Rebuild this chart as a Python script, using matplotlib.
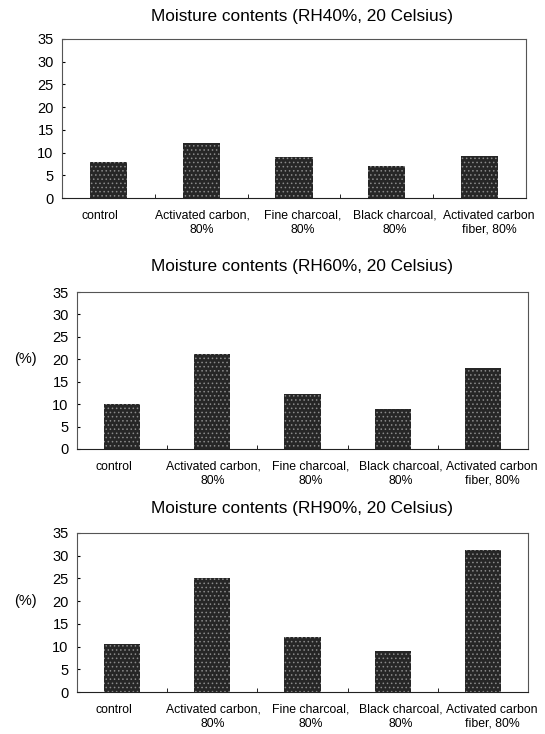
import numpy as np
import matplotlib.pyplot as plt

plt.rcParams.update({
    'font.family': ['Liberation Sans', 'DejaVu Sans'],
    'hatch.linewidth': 0.6,
    'axes.linewidth': 0.8,
})

# Data
categories = ['control', 'Activated carbon,\n80%', 'Fine charcoal,\n80%',
              'Black charcoal,\n80%', 'Activated carbon\nfiber, 80%']
titles = ['Moisture contents (RH40%, 20 Celsius)',
          'Moisture contents (RH60%, 20 Celsius)',
          'Moisture contents (RH90%, 20 Celsius)']
rh40 = [7.9, 12.1, 9.0, 7.0, 9.2]
rh60 = [10.0, 21.1, 12.2, 8.9, 18.0]
rh90 = [10.5, 25.1, 12.0, 9.0, 31.2]
yticks = [0, 5, 10, 15, 20, 25, 30, 35]

series = [rh40, rh60, rh90]
show_unit = [False, True, True]

W, H = 545, 734
fig = plt.figure(figsize=(W / 100, H / 100), dpi=100)

# axes boxes in pixels: left, right, top, bottom
boxes = [(62, 526, 39, 198), (77, 528, 292, 449), (77, 528, 533, 692)]
title_y = [17, 266, 509]
label_shift = [-0.09, 0.01, 0.09, 0.09, 0.1]

x = np.arange(len(categories))
for vals, box, title, ty, unit in zip(series, boxes, titles, title_y, show_unit):
    l, r, t, b = box
    ax = fig.add_axes([l / W, 1 - b / H, (r - l) / W, (b - t) / H])
    ax.bar(x, vals, width=0.4, color='#262626', edgecolor='#8a8a8a',
           hatch='....', linewidth=0, zorder=2)
    ax.set_xlim(-0.5, len(categories) - 0.5)
    ax.set_ylim(0, 35)
    ax.set_yticks(yticks)
    ax.tick_params(axis='y', direction='in', length=2, labelsize=10.5, pad=6)
    ax.set_xticks(x)
    ax.set_xticklabels([])
    ax.tick_params(axis='x', length=0)
    ax.set_xticks(x[:-1] + 0.5, minor=True)
    ax.tick_params(axis='x', which='minor', direction='in', length=3)
    for s in ax.spines.values():
        s.set_color('#555555')
    ax.spines['bottom'].set_color('#222222')

    for i, lab in enumerate(categories):
        ax.text(x[i] + label_shift[i], -0.075, lab, transform=ax.get_xaxis_transform(),
                ha='center', va='top', fontsize=8.8, linespacing=1.2,
                multialignment='center')
    if unit:
        ax.text(-0.115, 20, '(%)', transform=ax.get_yaxis_transform(),
                ha='center', va='center', fontsize=10.5)
    fig.text(302 / W, 1 - ty / H, title, ha='center', va='center', fontsize=12.4)

fig.savefig('out.png', dpi=100, facecolor='white')
